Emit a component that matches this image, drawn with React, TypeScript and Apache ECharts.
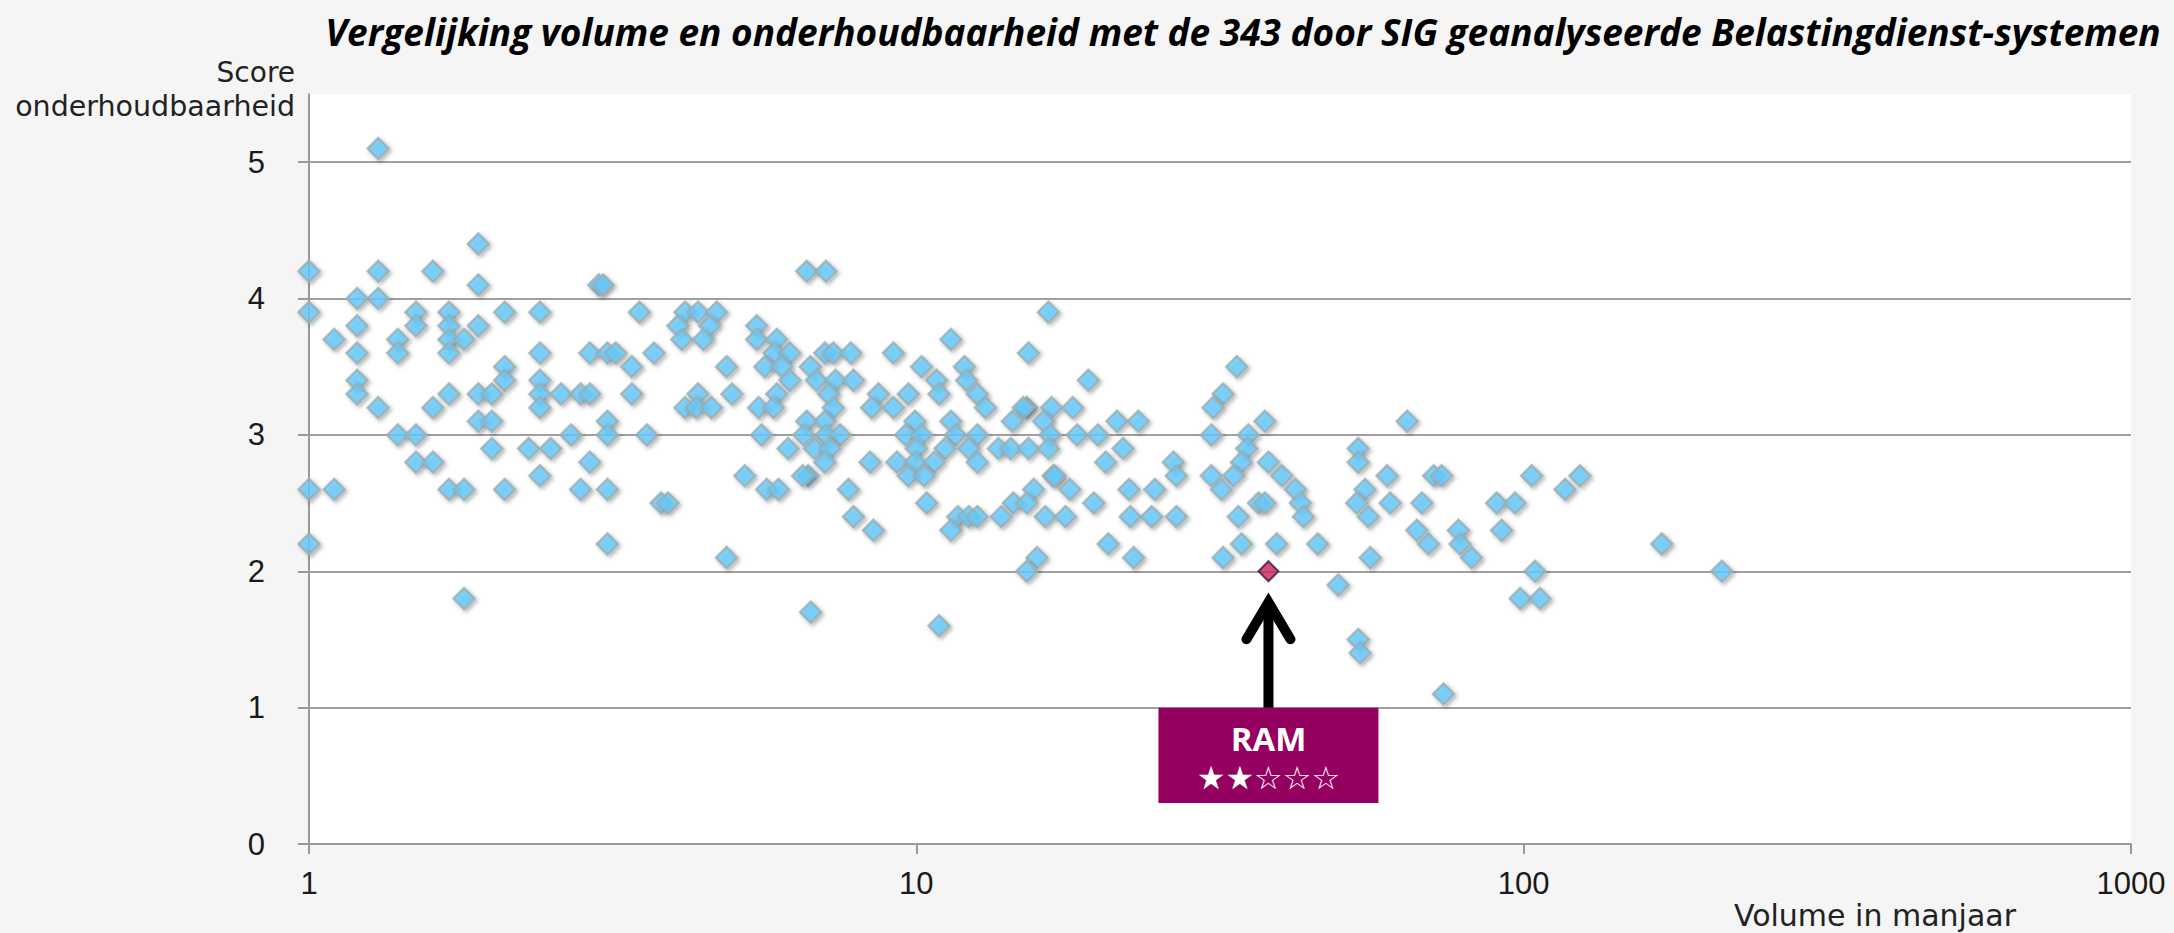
import React, { useEffect, useRef } from "react";
import * as echarts from "echarts";

const TITLE =
  "Vergelijking volume en onderhoudbaarheid met de 343 door SIG geanalyseerde Belastingdienst-systemen";
const Y_TITLE_1 = "Score";
const Y_TITLE_2 = "onderhoudbaarheid";
const X_TITLE = "Volume in manjaar";
const X_TICKS = [1, 10, 100, 1000];
const Y_TICKS = [0, 1, 2, 3, 4, 5];
const Y_TOP = 5.5;

// [volume in manjaar, score onderhoudbaarheid]
const systemsVolume1to4: [number, number][] = [
  [1.3, 5.1], [1.9, 4.4], [1.0, 4.2], [1.3, 4.2], [1.6, 4.2], [1.9, 4.1], [3.0, 4.1], [3.05, 4.1],
  [1.2, 4.0], [1.3, 4.0], [1.0, 3.9], [1.5, 3.9], [1.7, 3.9], [2.1, 3.9], [2.4, 3.9], [3.5, 3.9],
  [1.2, 3.8], [1.5, 3.8], [1.7, 3.8], [1.9, 3.8], [1.1, 3.7], [1.4, 3.7], [1.7, 3.7], [1.8, 3.7],
  [1.2, 3.6], [1.4, 3.6], [1.7, 3.6], [2.4, 3.6], [2.9, 3.6], [3.1, 3.6], [3.2, 3.6], [3.7, 3.6],
  [2.1, 3.5], [3.4, 3.5], [1.2, 3.4], [2.1, 3.4], [2.4, 3.4], [1.2, 3.3], [1.7, 3.3], [1.9, 3.3],
  [2.0, 3.3], [2.4, 3.3], [2.6, 3.3], [2.8, 3.3], [2.9, 3.3], [3.4, 3.3], [1.3, 3.2], [1.6, 3.2],
  [2.4, 3.2], [1.9, 3.1], [2.0, 3.1], [3.1, 3.1], [1.4, 3.0], [1.5, 3.0], [2.7, 3.0], [3.1, 3.0],
  [3.6, 3.0], [2.0, 2.9], [2.3, 2.9], [2.5, 2.9], [1.5, 2.8], [1.6, 2.8], [2.9, 2.8], [2.4, 2.7],
  [1.0, 2.6], [1.1, 2.6], [1.7, 2.6], [1.8, 2.6], [2.1, 2.6], [2.8, 2.6], [3.1, 2.6], [3.8, 2.5],
  [3.9, 2.5], [1.0, 2.2], [3.1, 2.2], [1.8, 1.8],
];

const systemsVolume4to8: [number, number][] = [
  [6.6, 4.2], [7.1, 4.2], [4.16, 3.9], [4.37, 3.9], [4.69, 3.9], [4.05, 3.8], [4.57, 3.8], [4.11, 3.7],
  [4.46, 3.7], [5.46, 3.8], [5.46, 3.7], [5.89, 3.7], [5.83, 3.6], [6.19, 3.6], [5.63, 3.5], [6.0, 3.5],
  [4.87, 3.5], [6.69, 3.5], [7.07, 3.6], [7.3, 3.6], [7.8, 3.6], [6.19, 3.4], [6.85, 3.4], [7.36, 3.4],
  [7.88, 3.4], [5.89, 3.3], [4.37, 3.3], [4.97, 3.3], [7.17, 3.3], [4.16, 3.2], [4.34, 3.2], [4.6, 3.2],
  [5.5, 3.2], [5.82, 3.2], [7.3, 3.2], [6.6, 3.1], [7.07, 3.1], [5.56, 3.0], [6.53, 3.0], [7.1, 3.0],
  [7.49, 3.0], [6.15, 2.9], [6.8, 2.9], [7.2, 2.9], [7.07, 2.8], [5.22, 2.7], [6.64, 2.7], [6.5, 2.7],
  [5.67, 2.6], [5.93, 2.6], [7.73, 2.6], [7.88, 2.4], [4.87, 2.1], [6.7, 1.7],
];

const systemsVolume8to17: [number, number][] = [
  [16.5, 3.9], [11.4, 3.7], [9.17, 3.6], [15.3, 3.6], [10.2, 3.5], [12.0, 3.5], [10.8, 3.4], [12.1, 3.4],
  [8.66, 3.3], [9.7, 3.3], [10.9, 3.3], [12.6, 3.3], [8.44, 3.2], [9.17, 3.2], [13.0, 3.2], [15.2, 3.2],
  [15.0, 3.2], [16.7, 3.2], [9.95, 3.1], [11.4, 3.1], [14.4, 3.1], [16.2, 3.1], [9.6, 3.0], [10.2, 3.0],
  [11.6, 3.0], [12.6, 3.0], [16.6, 3.0], [10.0, 2.9], [11.15, 2.9], [12.2, 2.9], [13.65, 2.9], [14.3, 2.9],
  [15.3, 2.9], [16.5, 2.9], [8.39, 2.8], [9.29, 2.8], [9.95, 2.8], [10.7, 2.8], [12.6, 2.8], [9.7, 2.7],
  [10.3, 2.7], [16.8, 2.7], [15.6, 2.6], [10.4, 2.5], [14.45, 2.5], [15.2, 2.5], [11.7, 2.4], [12.2, 2.4],
  [12.6, 2.4], [13.8, 2.4], [16.3, 2.4], [8.5, 2.3], [11.4, 2.3], [15.8, 2.1], [15.2, 2.0], [10.9, 1.6],
];

const systemsVolume17to50: [number, number][] = [
  [33.7, 3.5], [19.2, 3.4], [32.0, 3.3], [30.8, 3.2], [18.1, 3.2], [21.4, 3.1], [23.2, 3.1], [18.4, 3.0],
  [19.9, 3.0], [30.6, 3.0], [35.2, 3.0], [21.9, 2.9], [35.0, 2.9], [20.5, 2.8], [26.5, 2.8], [34.3, 2.8],
  [16.9, 2.7], [26.8, 2.7], [30.6, 2.7], [33.3, 2.7], [17.9, 2.6], [22.4, 2.6], [24.7, 2.6], [31.8, 2.6],
  [19.6, 2.5], [36.6, 2.5], [17.6, 2.4], [22.5, 2.4], [24.4, 2.4], [26.8, 2.4], [33.9, 2.4], [20.7, 2.2],
  [34.3, 2.2], [22.8, 2.1], [32.0, 2.1], [37.5, 3.1], [38.0, 2.8], [40.0, 2.7], [42.1, 2.6], [42.9, 2.5],
  [43.4, 2.4], [37.5, 2.5], [39.2, 2.2], [45.8, 2.2], [49.5, 1.9],
];

const systemsVolume50plus: [number, number][] = [
  [53.4, 2.9], [53.4, 2.8], [64.3, 3.1], [59.6, 2.7], [54.8, 2.6], [60.3, 2.5], [68.0, 2.5], [53.1, 2.5],
  [55.5, 2.4], [66.7, 2.3], [69.7, 2.2], [55.9, 2.1], [71.1, 2.7], [53.4, 1.5], [53.8, 1.4], [73.3, 2.7],
  [103.1, 2.7], [123.8, 2.7], [117, 2.6], [90.3, 2.5], [96.8, 2.5], [78.1, 2.3], [92, 2.3], [78.6, 2.2],
  [82.1, 2.1], [104.4, 2.0], [168.8, 2.2], [212, 2.0], [98.7, 1.8], [106.4, 1.8], [73.8, 1.1],
];

const RAM_NAME = "RAM";
const RAM_STARS = "★★☆☆☆";
const ramSystem: [number, number] = [38, 2.0];
const ramBoxBottomScore = 0.3;

export default function App() {
  const ref = useRef<HTMLDivElement>(null);

  useEffect(() => {
    if (!ref.current) return;
    const chart = echarts.init(ref.current, undefined, { renderer: "svg" });
    const systems = [
      ...systemsVolume1to4,
      ...systemsVolume4to8,
      ...systemsVolume8to17,
      ...systemsVolume17to50,
      ...systemsVolume50plus,
    ];
    const axisColor = "#9a9a9a";
    const gridColor = "#a0a0a0";
    const baseGraphic: any[] = [
      {
        type: "text",
        id: "title",
        x: 1243,
        y: 31,
        style: {
          text: TITLE,
          fontFamily: "Open Sans",
          fontStyle: "italic",
          fontWeight: "bold",
          fontSize: 37,
          fill: "#000",
          textAlign: "center",
          textVerticalAlign: "middle",
        },
      },
      {
        type: "text",
        id: "ytitle1",
        x: 295,
        y: 72,
        style: {
          text: Y_TITLE_1,
          fontFamily: "DejaVu Sans",
          fontSize: 28,
          fill: "#222",
          textAlign: "right",
          textVerticalAlign: "middle",
        },
      },
      {
        type: "text",
        id: "ytitle2",
        x: 295,
        y: 106,
        style: {
          text: Y_TITLE_2,
          fontFamily: "DejaVu Sans",
          fontSize: 28.5,
          fill: "#222",
          textAlign: "right",
          textVerticalAlign: "middle",
        },
      },
      {
        type: "text",
        id: "xtitle",
        x: 1875,
        y: 915,
        style: {
          text: X_TITLE,
          fontFamily: "DejaVu Sans",
          fontSize: 30,
          fill: "#222",
          textAlign: "center",
          textVerticalAlign: "middle",
        },
      },
    ];

    chart.setOption({
      animation: false,
      backgroundColor: "#f5f5f5",
      grid: {
        left: 309,
        right: 43,
        top: 94,
        bottom: 89,
        show: true,
        backgroundColor: "#ffffff",
        borderWidth: 0,
      },
      xAxis: {
        type: "log",
        logBase: 10,
        min: X_TICKS[0],
        max: X_TICKS[X_TICKS.length - 1],
        axisLine: { show: true, lineStyle: { color: axisColor, width: 2 } },
        axisTick: { show: true, length: 10, lineStyle: { color: axisColor, width: 2 } },
        minorTick: { show: false },
        splitLine: { show: false },
        axisLabel: {
          show: true,
          showMinLabel: true,
          showMaxLabel: true,
          margin: 24,
          fontFamily: "Liberation Sans",
          fontSize: 31,
          color: "#1a1a1a",
          formatter: (v: number) => String(Math.round(v)),
        },
      },
      yAxis: {
        type: "value",
        min: Y_TICKS[0],
        max: Y_TOP,
        interval: 1,
        axisLine: { show: true, lineStyle: { color: axisColor, width: 2 } },
        axisTick: {
          show: true,
          length: 11,
          customValues: Y_TICKS,
          lineStyle: { color: axisColor, width: 2 },
        },
        splitLine: {
          show: true,
          lineStyle: {
            color: [gridColor, gridColor, gridColor, gridColor, gridColor, gridColor, "#ffffff"],
            width: 2,
          },
        },
        axisLabel: {
          margin: 44,
          customValues: Y_TICKS,
          showMinLabel: true,
          showMaxLabel: true,
          fontFamily: "Liberation Sans",
          fontSize: 31,
          color: "#1a1a1a",
          formatter: (v: number) => (Number.isInteger(v) ? String(v) : ""),
        },
      },
      series: [
        {
          type: "scatter",
          name: "systemen",
          data: systems,
          symbol: "diamond",
          symbolSize: 21,
          itemStyle: {
            color: "#66ccff",
            borderColor: "#98aeb3",
            borderWidth: 2.5,
            shadowColor: "rgba(0,0,0,0.35)",
            shadowBlur: 4,
            shadowOffsetX: 2,
            shadowOffsetY: 2,
          },
          z: 2,
        },
        {
          type: "scatter",
          name: RAM_NAME,
          data: [ramSystem],
          symbol: "diamond",
          symbolSize: 20,
          itemStyle: {
            color: "#cc1f5e",
            borderColor: "#3b1a3e",
            borderWidth: 2,
          },
          z: 3,
        },
      ],
      graphic: baseGraphic,
    });

    const p = chart.convertToPixel({ gridIndex: 0 }, ramSystem) as number[];
    const top = (chart.convertToPixel({ gridIndex: 0 }, [ramSystem[0], 1]) as number[])[1];
    const bottom = (chart.convertToPixel({ gridIndex: 0 }, [ramSystem[0], ramBoxBottomScore]) as number[])[1];
    const cx = p[0];
    const tip = p[1] + 27;
    const boxW = 220;

    chart.setOption({
      graphic: [
        ...baseGraphic,
        {
          type: "rect",
          id: "ramBox",
          z: 100,
          shape: { x: cx - boxW / 2, y: top, width: boxW, height: bottom - top },
          style: { fill: "#930060" },
        },
        {
          type: "text",
          id: "ramName",
          z: 101,
          x: cx,
          y: top + 31,
          style: {
            text: RAM_NAME,
            fontFamily: "Open Sans",
            fontWeight: "bold",
            fontSize: 33,
            fill: "#ffffff",
            textAlign: "center",
            textVerticalAlign: "middle",
          },
        },
        {
          type: "text",
          id: "ramStars",
          z: 101,
          x: cx,
          y: top + 70,
          style: {
            text: RAM_STARS,
            fontFamily: "DejaVu Sans",
            fontSize: 32,
            fill: "#ffffff",
            textAlign: "center",
            textVerticalAlign: "middle",
          },
        },
        {
          type: "line",
          id: "arrowShaft",
          z: 100,
          shape: { x1: cx, y1: tip + 6, x2: cx, y2: top },
          style: { stroke: "#000", lineWidth: 10 },
        },
        {
          type: "polyline",
          id: "arrowHead",
          z: 100,
          shape: { points: [[cx - 22, tip + 41], [cx, tip + 4], [cx + 22, tip + 41]] },
          style: { stroke: "#000", lineWidth: 10, lineCap: "round", lineJoin: "miter", fill: "none" },
        },
      ],
    });

    return () => chart.dispose();
  }, []);

  return (
    <div
      ref={ref}
      style={{ position: "absolute", left: 0, top: 0, width: 2174, height: 933 }}
    />
  );
}
